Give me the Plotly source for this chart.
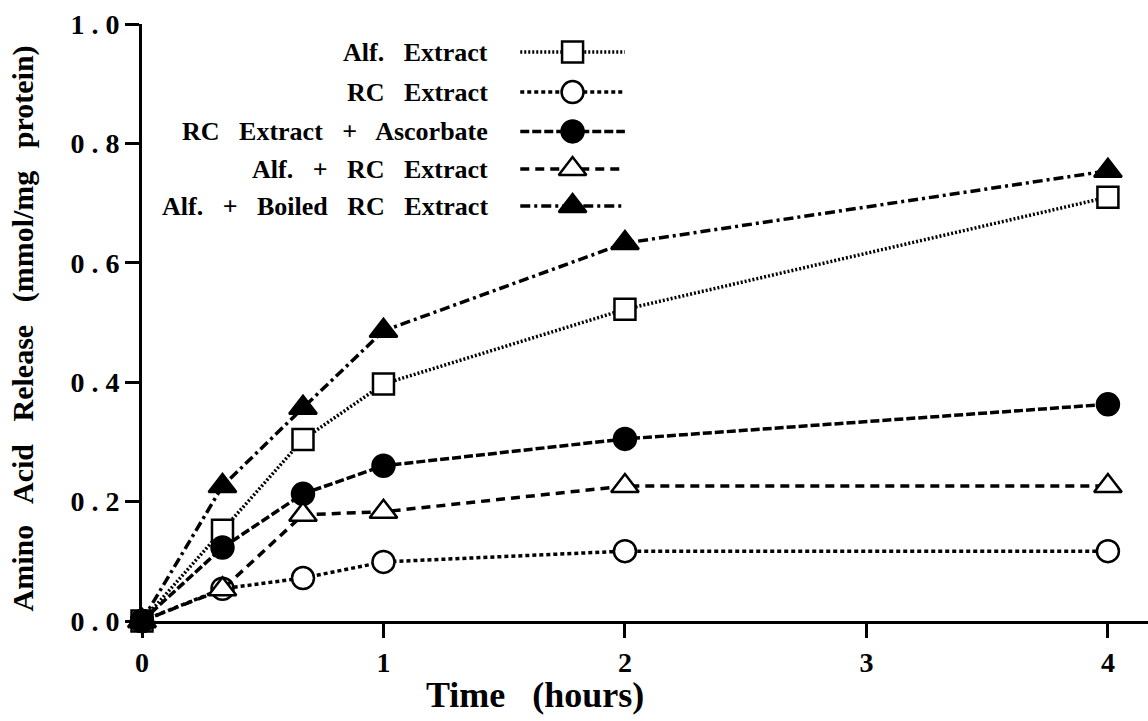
import plotly.graph_objects as go

# ---- data ----
time_h = [0, 1/3, 2/3, 1, 2, 4]
alf_extract = [0, 0.152, 0.304, 0.397, 0.522, 0.710]
rc_extract = [0, 0.054, 0.072, 0.099, 0.117, 0.117]
rc_ascorbate = [0, 0.123, 0.213, 0.260, 0.305, 0.363]
alf_rc = [0, 0.053, 0.178, 0.183, 0.226, 0.226]
alf_boiled = [0, 0.226, 0.357, 0.486, 0.633, 0.754]

series_names = ["Alf.   Extract", "RC   Extract", "RC   Extract   +   Ascorbate",
                "Alf.   +   RC   Extract", "Alf.   +   Boiled   RC   Extract"]
series_values = [alf_extract, rc_extract, rc_ascorbate, alf_rc, alf_boiled]

x_tick_vals = [0, 1, 2, 3, 4]
y_tick_vals = [0.0, 0.2, 0.4, 0.6, 0.8, 1.0]

# ---- styles ----
styles = [
    dict(symbol="square", fill="white", dash="2px,2px", size=21),
    dict(symbol="circle", fill="white", dash="4px,3px", size=22),
    dict(symbol="circle", fill="black", dash="9px,3px", size=22),
    dict(symbol="triangle-up", fill="white", dash="9px,6px", size=24),
    dict(symbol="triangle-up", fill="black", dash="10px,4px,3px,4px", size=24),
]
FONT = "Liberation Serif"
LW = 3.5

fig = go.Figure()
for name, vals, st in zip(series_names, series_values, styles):
    fig.add_trace(go.Scatter(
        x=time_h, y=vals, mode="lines+markers", name=name,
        line=dict(color="black", width=LW, dash=st["dash"]),
        marker=dict(symbol=st["symbol"], size=st["size"], color=st["fill"],
                    line=dict(color="black", width=2.5)),
        cliponaxis=False, showlegend=False,
    ))

# ---- custom legend (text left, sample right) ----
leg_text_x = 0.346
leg_line_x = [0.376, 0.428, 0.480]
leg_rows = [0.953, 0.886, 0.820, 0.757, 0.695]
for name, st, ry in zip(series_names, styles, leg_rows):
    fig.add_trace(go.Scatter(
        x=leg_line_x, y=[ry, ry, ry], xaxis="x2", yaxis="y2",
        mode="lines+markers",
        line=dict(color="black", width=LW, dash=st["dash"]),
        marker=dict(symbol=st["symbol"], size=st["size"], color=st["fill"],
                    opacity=[0, 1, 0],
                    line=dict(color="black", width=2.5)),
        cliponaxis=False, showlegend=False, hoverinfo="skip",
    ))
    fig.add_annotation(x=leg_text_x, y=ry, xref="paper", yref="paper",
                       text=name, showarrow=False, xanchor="right",
                       yanchor="middle",
                       font=dict(family=FONT, size=26, color="black", weight="bold"))

# axis titles
fig.add_annotation(x=0.391, y=-0.124, xref="paper", yref="paper",
                   text="Time   (hours)", showarrow=False, xanchor="center",
                   yanchor="middle",
                   font=dict(family=FONT, size=36, color="black", weight="bold"))
fig.add_annotation(x=0, xshift=-119, y=0.49, xref="paper", yref="paper",
                   text="Amino   Acid   Release   (mmol/mg   protein)", textangle=-90,
                   showarrow=False, xanchor="center", yanchor="middle",
                   font=dict(family=FONT, size=30, color="black", weight="bold"))

fig.update_layout(
    width=1148, height=721,
    margin=dict(l=142, r=0, t=24, b=100),
    plot_bgcolor="white", paper_bgcolor="white",
    xaxis=dict(range=[0, 4.166], tickvals=x_tick_vals,
               ticktext=[str(v) for v in x_tick_vals],
               showline=True, linecolor="black", linewidth=3,
               ticks="outside", ticklen=14, tickwidth=2.5, tickcolor="black",
               showgrid=False, zeroline=False,
               tickfont=dict(family=FONT, size=28, color="black", weight="bold")),
    yaxis=dict(range=[0, 1.0], tickvals=y_tick_vals,
               ticktext=[f"{v:.1f}".replace(".", " . ") for v in y_tick_vals],
               showline=True, linecolor="black", linewidth=3,
               ticks="outside", ticklen=14, tickwidth=2.5, tickcolor="black",
               showgrid=False, zeroline=False,
               tickfont=dict(family=FONT, size=28, color="black", weight="bold")),
    xaxis2=dict(range=[0, 1], overlaying="x", visible=False, fixedrange=True),
    yaxis2=dict(range=[0, 1], overlaying="y", visible=False, fixedrange=True),
)

# remove the browser's default 8px body margin so the figure fills the window
fig.write_html("out.html", config={"displayModeBar": False},
               post_script="document.body.style.margin='0';document.body.style.overflow='hidden';")
